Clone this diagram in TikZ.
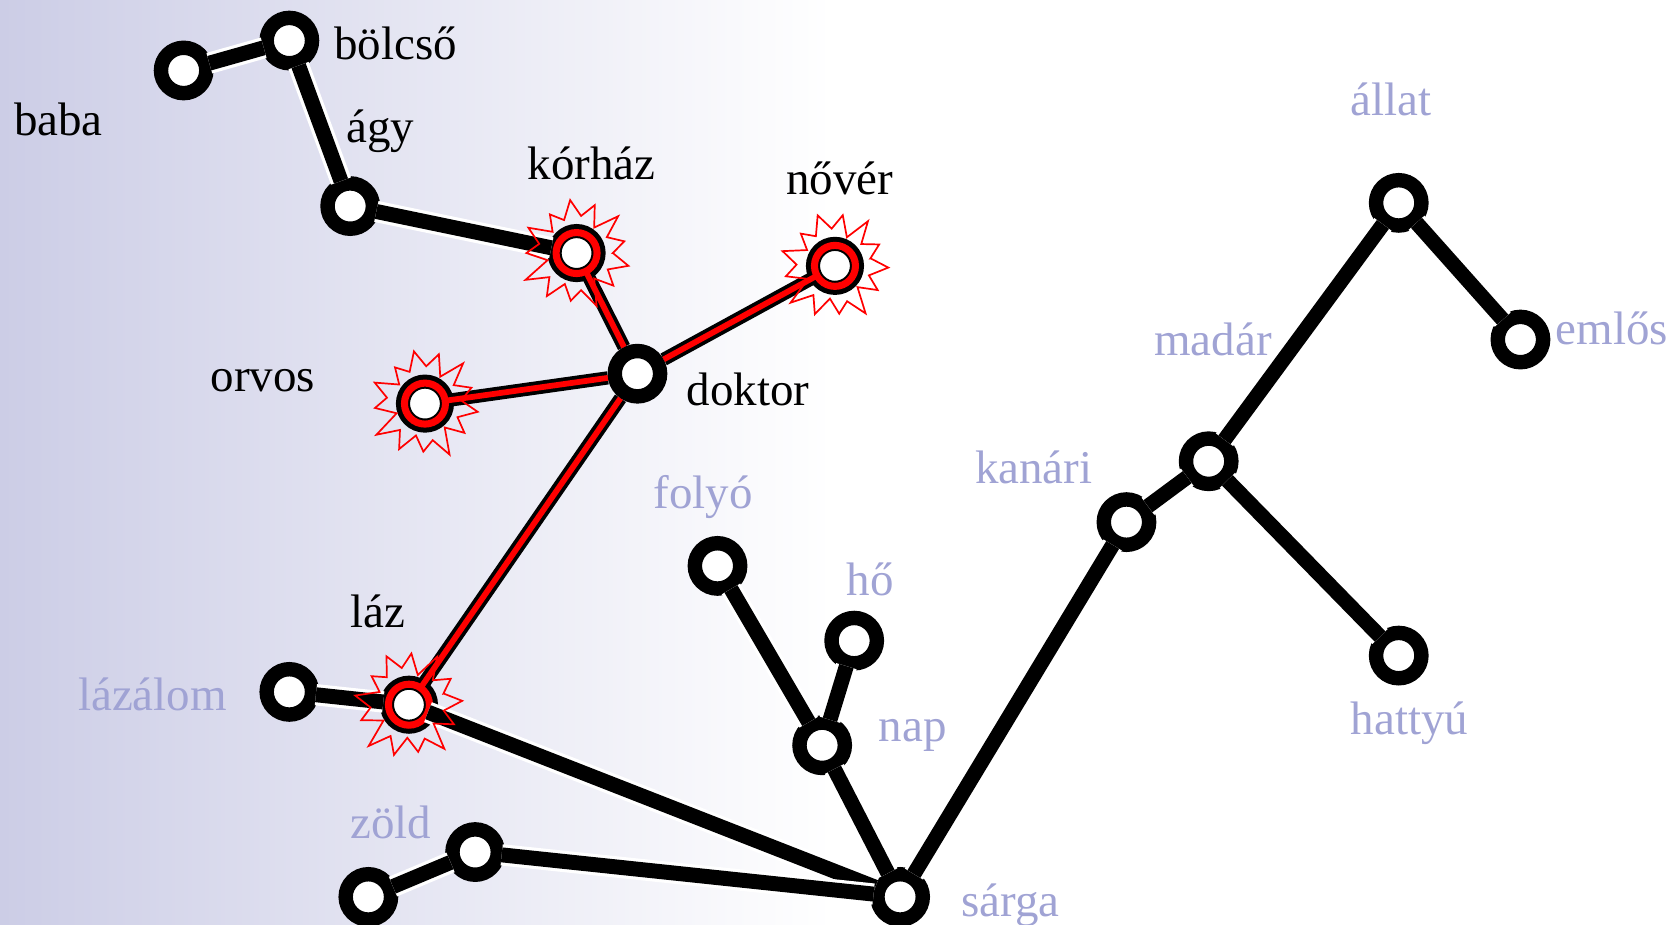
\documentclass[tikz,border=0pt]{standalone}
\usepackage{fontspec}
\setmainfont{Liberation Serif}
\definecolor{lbl}{RGB}{160,163,212}
\definecolor{bgl}{RGB}{204,205,230}
\newcommand\burstat[2]{%
  \begin{scope}[shift={(#1)}, rotate=#2]
    \draw[red, line width=1.6, line join=miter] (0:34)
      \foreach \r/\v [count=\i] in {50/33,46/29,53/35,45/31,49/34,54/28,47/36,51/30,44/33,50/35,48/29,52/32,46/34}
        { -- ({(\i-0.5)*27.6923}:\r) -- ({\i*27.6923}:\v) } -- cycle;
  \end{scope}}
\begin{document}
\begin{tikzpicture}[x=1pt,y=-1pt,
  txt/.style={font=\fontsize{44}{50}\selectfont, inner sep=0, anchor=base west},
  blk/.style={txt, text=black},
  pur/.style={txt, text=lbl},
  vtx/.style={circle, draw=black, line width=13.5, fill=white, minimum size=42.5, inner sep=0},
  rvtx/.style={circle, draw=black, line width=13.2, fill=white, minimum size=41.2, inner sep=0},
  rring/.style={draw=red, line width=6.6},
  bedge/.style={line width=14, preaction={draw=white, line width=20}, shorten <=-3, shorten >=-3},
  redge/.style={draw=black, line width=3.5, double=red, double distance=5.4}]
\useasboundingbox (0,0) rectangle (1565,866);
\shade[left color=bgl, right color=white] (0,0) rectangle (780,866);

% vertices
\node[vtx] (vbaba) at (172,66) {};
\node[vtx] (vbol) at (271,38) {};
\node[vtx] (vagy) at (328,193) {};
\node[rvtx] (vkor) at (540,237) {};
\node[rvtx] (vnov) at (782,249) {};
\node[rvtx] (vorv) at (398,378) {};
\node[vtx] (vdok) at (597,350) {};
\node[rvtx] (vlaz) at (383,660) {};
\node[vtx] (vlal) at (271,648) {};
\node[vtx] (vfol) at (672,530) {};
\node[vtx] (vho) at (800,600) {};
\node[vtx] (vnap) at (770,698) {};
\node[vtx] (vsar) at (843,840) {};
\node[vtx] (vzol) at (445,798) {};
\node[vtx] (vzol2) at (345,840) {};
\node[vtx] (vkan) at (1055,489) {};
\node[vtx] (vmad) at (1132,432) {};
\node[vtx] (vall) at (1310,190) {};
\node[vtx] (veml) at (1424,318) {};
\node[vtx] (vhat) at (1310,614) {};

% red edges
\draw[redge, shorten <=-7] (vkor) -- (vdok);
\draw[redge, shorten <=-7] (vnov) -- (vdok);
\draw[redge, shorten <=-7] (vorv) -- (vdok);
\draw[redge, shorten >=-7] (vdok) -- (vlaz);

% red rings
\foreach \n in {vkor,vnov,vorv,vlaz}
  \draw[rring] (\n.center) circle[radius=19.2];

% black edges
\draw[bedge] (vbaba) -- (vbol);
\draw[bedge] (vbol) -- (vagy);
\draw[bedge] (vagy) -- (vkor);
\draw[bedge] (vlal) -- (vlaz);
\draw[bedge, shorten <=-8] (vlaz) -- (vsar);
\draw[bedge] (vzol) -- (vsar);
\draw[bedge] (vzol2) -- (vzol);
\draw[bedge] (vfol) -- (vnap);
\draw[bedge] (vho) -- (vnap);
\draw[bedge] (vnap) -- (vsar);
\draw[bedge] (vsar) -- (vkan);
\draw[bedge] (vkan) -- (vmad);
\draw[bedge] (vmad) -- (vall);
\draw[bedge] (vall) -- (veml);
\draw[bedge] (vmad) -- (vhat);

% bursts
\burstat{vkor}{0}
\burstat{vnov}{12}
\burstat{vorv}{5}
\burstat{vlaz}{18}

% labels
\node[blk] (lbaba) at (13,127) {baba};
\node[blk] (lbol) at (313,56) {bölcső};
\node[blk] (lagy) at (324,133) {ágy};
\node[blk] (lkor) at (494,168) {kórház};
\node[blk] (lnov) at (736,182) {nővér};
\node[blk] (lorv) at (197,367) {orvos};
\node[blk] (ldok) at (643,380) {doktor};
\node[blk] (llaz) at (328,588) {láz};
\node[pur] (llal) at (73,665) {lázálom};
\node[pur] (lfol) at (612,476) {folyó};
\node[pur] (lho) at (793,558) {hő};
\node[pur] (lnap) at (823,694) {nap};
\node[pur] (lzol) at (328,785) {zöld};
\node[pur] (lsar) at (900,858) {sárga};
\node[pur] (lkan) at (913,453) {kanári};
\node[pur] (lmad) at (1081,333) {madár};
\node[pur] (lall) at (1265,108) {állat};
\node[pur] (leml) at (1457,323) {emlős};
\node[pur] (lhat) at (1265,688) {hattyú};
\end{tikzpicture}
\end{document}
